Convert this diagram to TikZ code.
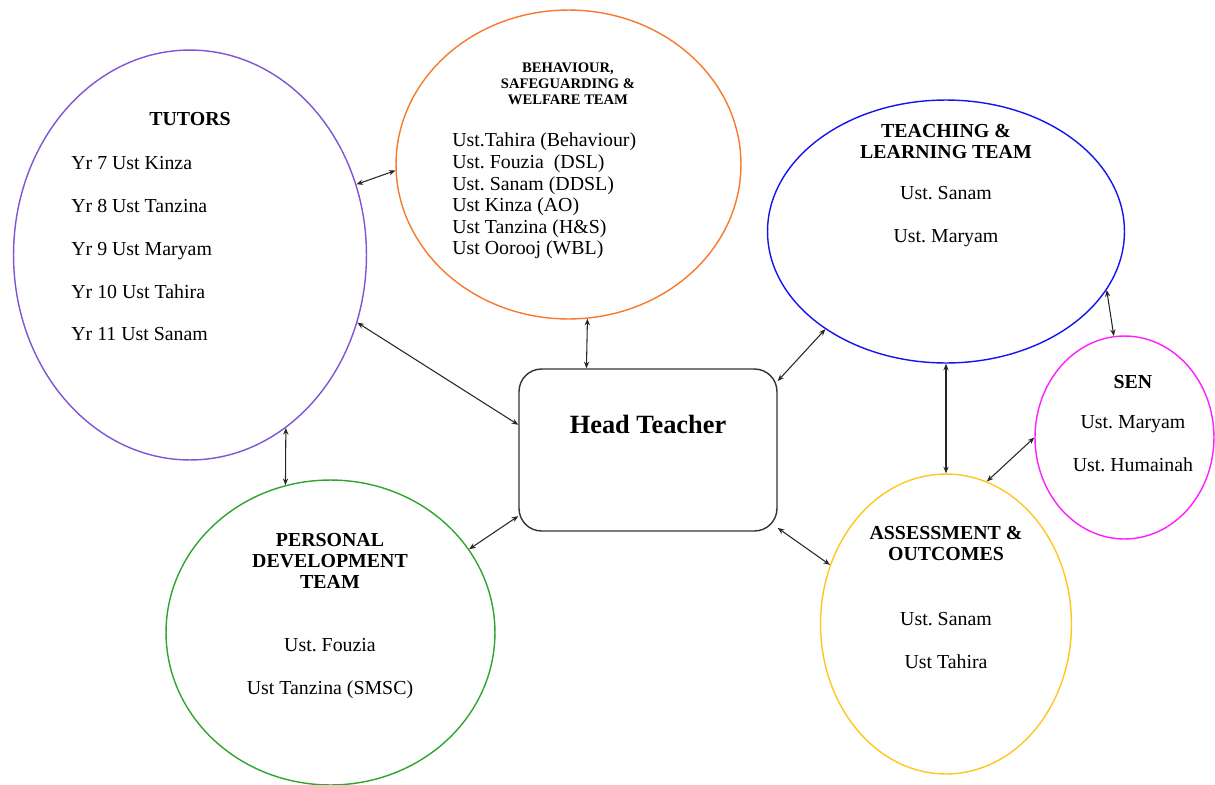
\documentclass[tikz,border=0pt]{standalone}
\usepackage{fontspec}
\setmainfont{Liberation Serif}
\usetikzlibrary{positioning, arrows.meta, shapes.geometric}

\definecolor{tutorpurple}{HTML}{7E55D4}
\definecolor{behorange}{HTML}{F47B2E}
\definecolor{tlblue}{HTML}{1414F0}
\definecolor{senpink}{HTML}{FF1EFF}
\definecolor{aoyellow}{HTML}{FFC61E}
\definecolor{pdgreen}{HTML}{2EA52E}

\frenchspacing

\begin{document}
\begin{tikzpicture}[
    x=0.02cm, y=-0.02cm,
    % Node styles
    team/.style={
        ellipse,
        draw=#1,
        line width=0.8pt,
        inner sep=0pt
    },
    headbox/.style={
        rectangle,
        rounded corners=0.45cm,
        draw=black!80,
        line width=0.8pt,
        minimum width=5.16cm,
        minimum height=3.24cm
    },
    heading/.style={
        font=\fontsize{11.3}{11.9}\selectfont\bfseries,
        align=center,
        inner sep=0pt
    },
    members/.style={
        font=\fontsize{11.3}{24.4}\selectfont,
        align=center,
        inner sep=0pt
    },
    link/.style={
        {Stealth[length=3.8pt, width=3pt]}-{Stealth[length=3.8pt, width=3pt]},
        line width=0.6pt,
        draw=black!85
    }
]

\useasboundingbox (0,0) rectangle (1215,785);

% Teams
\node[team=tutorpurple, minimum width=7.06cm, minimum height=8.2cm] (tutors) at (190,255) {};
\node[team=behorange, minimum width=6.9cm, minimum height=6.18cm] (behaviour) at (568.5,164.5) {};
\node[team=tlblue, minimum width=7.14cm, minimum height=5.26cm] (teaching) at (946,231.5) {};
\node[team=senpink, minimum width=3.58cm, minimum height=4.06cm] (sen) at (1124.5,437.5) {};
\node[team=aoyellow, minimum width=5.02cm, minimum height=6cm] (assessment) at (946,624) {};
\node[team=pdgreen, minimum width=6.58cm, minimum height=6.1cm] (pd) at (330.5,632.5) {};

% Head teacher
\node[headbox] (head) at (648,450) {};
\node[font=\fontsize{15}{18}\selectfont\bfseries, inner sep=0pt] (headtitle) at (648,424) {Head Teacher};

% Tutors
\node[heading] (tutorshead) at (190,119) {TUTORS};
\node[members, align=left, anchor=north west] (tutorslist) at (71,156) {%
    Yr 7 Ust Kinza\\Yr 8 Ust Tanzina\\Yr 9 Ust Maryam\\Yr 10 Ust Tahira\\Yr 11 Ust Sanam};

% Behaviour, safeguarding & welfare
\node[heading, font=\fontsize{8.3}{9.07}\selectfont\bfseries] (behhead) at (568,84) {%
    BEHAVIOUR,\\SAFEGUARDING \&\\WELFARE TEAM};
\node[members, font=\fontsize{11.3}{12.25}\selectfont, align=left, anchor=west] (behlist) at (452,196) {%
    Ust.Tahira (Behaviour)\\Ust. Fouzia\ \ (DSL)\\Ust. Sanam (DDSL)\\Ust Kinza (AO)\\Ust Tanzina (H\&S)\\Ust Oorooj (WBL)};

% Teaching & learning
\node[heading] (tlhead) at (946,141.5) {TEACHING \&\\LEARNING TEAM};
\node[members] (tllist) at (946,217) {Ust. Sanam\\Ust. Maryam};

% SEN
\node[heading] (senhead) at (1133,382) {SEN};
\node[members] (senlist) at (1133,444) {Ust. Maryam\\Ust. Humainah};

% Assessment & outcomes
\node[heading] (aohead) at (946,543.5) {ASSESSMENT \&\\OUTCOMES};
\node[members] (aolist) at (946,640.5) {Ust. Sanam\\Ust Tahira};

% Personal development
\node[heading] (pdhead) at (330,561) {PERSONAL\\DEVELOPMENT\\TEAM};
\node[members] (pdlist) at (330,668.5) {Ust. Fouzia\\Ust Tanzina (SMSC)};

% Arrows
\draw[link] (tutors.23.6) -- (behaviour.182.5);
\draw[link] (behaviour.-83.6) -- (head.127.4);
\draw[link] (tutors.-22.3) -- (head.169.5);
\draw[link] (tutors.-61.1) -- (pd.107.3);
\draw[link] (head.207.3) -- (pd.31.5);
\draw[link] (head.28.5) -- (teaching.219.3);
\draw[link] (head.-31.3) -- (assessment.153);
\draw[link] (teaching.-90) -- (assessment.90);
\draw[link] (teaching.-20.2) -- (sen.96);
\draw[link] (sen.180) -- (assessment.74.2);

\end{tikzpicture}
\end{document}
